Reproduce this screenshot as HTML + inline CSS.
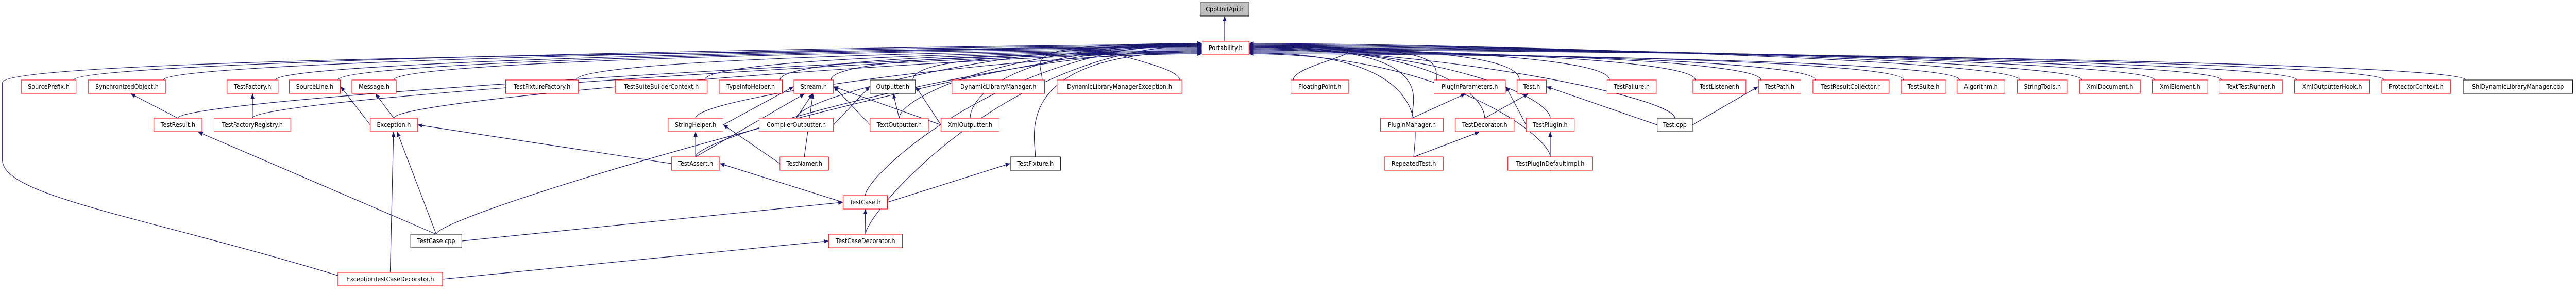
<!DOCTYPE html>
<html><head><meta charset="utf-8"><style>
html,body{margin:0;padding:0;background:#fff;width:100%;height:100%;overflow:hidden;}
svg{display:block;position:absolute;left:0;top:0;width:100vw;height:100vh;}
text{font-family:"DejaVu Sans","Liberation Sans",sans-serif;font-size:12px;fill:#000;}
</style></head><body>
<svg id="s" viewBox="0 0 5344 560" preserveAspectRatio="none" xmlns="http://www.w3.org/2000/svg">
<defs><marker id="ah" markerWidth="10" markerHeight="8" refX="9" refY="4" orient="auto" markerUnits="userSpaceOnUse"><path d="M0,0 L10,4 L0,8 z" fill="#191970"/></marker></defs>
<g id="edges" fill="none" stroke="#191970" stroke-width="1.2"></g>
<g id="nodes">
<g id="api"><rect x="2490" y="5" width="101" height="26" fill="#bfbfbf" stroke="#000"/><text x="2540.5" y="22" text-anchor="middle">CppUnitApi.h</text></g>
<g id="port"><rect x="2494" y="80" width="97" height="26" fill="#fff" stroke="#f00"/><text x="2542.5" y="97" text-anchor="middle">Portability.h</text></g>

<g id="a1"><rect x="44" y="155" width="114" height="26" fill="#fff" stroke="#f00"/><text x="101" y="172" text-anchor="middle">SourcePrefix.h</text></g>
<g id="a2"><rect x="183" y="155" width="161" height="26" fill="#fff" stroke="#f00"/><text x="263.5" y="172" text-anchor="middle">SynchronizedObject.h</text></g>
<g id="a3"><rect x="471" y="155" width="106" height="26" fill="#fff" stroke="#f00"/><text x="524" y="172" text-anchor="middle">TestFactory.h</text></g>
<g id="a4"><rect x="600" y="155" width="106" height="26" fill="#fff" stroke="#f00"/><text x="653" y="172" text-anchor="middle">SourceLine.h</text></g>
<g id="a5"><rect x="730" y="155" width="92" height="26" fill="#fff" stroke="#f00"/><text x="776" y="172" text-anchor="middle">Message.h</text></g>
<g id="a6"><rect x="1049" y="155" width="151" height="26" fill="#fff" stroke="#f00"/><text x="1124.5" y="172" text-anchor="middle">TestFixtureFactory.h</text></g>
<g id="a7"><rect x="1277" y="155" width="190" height="26" fill="#fff" stroke="#f00"/><text x="1372" y="172" text-anchor="middle">TestSuiteBuilderContext.h</text></g>
<g id="a8"><rect x="1492" y="155" width="131" height="26" fill="#fff" stroke="#f00"/><text x="1557.5" y="172" text-anchor="middle">TypeInfoHelper.h</text></g>
<g id="a9"><rect x="1647" y="155" width="82" height="26" fill="#fff" stroke="#f00"/><text x="1688" y="172" text-anchor="middle">Stream.h</text></g>
<g id="a10"><rect x="1805" y="155" width="94" height="26" fill="#fff" stroke="#000"/><text x="1852" y="172" text-anchor="middle">Outputter.h</text></g>
<g id="a11"><rect x="1975" y="155" width="192" height="26" fill="#fff" stroke="#f00"/><text x="2071" y="172" text-anchor="middle">DynamicLibraryManager.h</text></g>
<g id="a12"><rect x="2193" y="155" width="259" height="26" fill="#fff" stroke="#f00"/><text x="2322.5" y="172" text-anchor="middle">DynamicLibraryManagerException.h</text></g>
<g id="a13"><rect x="2678" y="155" width="120" height="26" fill="#fff" stroke="#f00"/><text x="2738" y="172" text-anchor="middle">FloatingPoint.h</text></g>
<g id="a14"><rect x="2975" y="155" width="148" height="26" fill="#fff" stroke="#f00"/><text x="3049" y="172" text-anchor="middle">PlugInParameters.h</text></g>
<g id="a15"><rect x="3147" y="155" width="61" height="26" fill="#fff" stroke="#f00"/><text x="3177.5" y="172" text-anchor="middle">Test.h</text></g>
<g id="a16"><rect x="3334" y="155" width="102" height="26" fill="#fff" stroke="#f00"/><text x="3385" y="172" text-anchor="middle">TestFailure.h</text></g>
<g id="a17"><rect x="3512" y="155" width="110" height="26" fill="#fff" stroke="#f00"/><text x="3567" y="172" text-anchor="middle">TestListener.h</text></g>
<g id="a18"><rect x="3648" y="155" width="88" height="26" fill="#fff" stroke="#f00"/><text x="3692" y="172" text-anchor="middle">TestPath.h</text></g>
<g id="a19"><rect x="3761" y="155" width="158" height="26" fill="#fff" stroke="#f00"/><text x="3840" y="172" text-anchor="middle">TestResultCollector.h</text></g>
<g id="a20"><rect x="3944" y="155" width="93" height="26" fill="#fff" stroke="#f00"/><text x="3990.5" y="172" text-anchor="middle">TestSuite.h</text></g>
<g id="a21"><rect x="4060" y="155" width="99" height="26" fill="#fff" stroke="#f00"/><text x="4109.5" y="172" text-anchor="middle">Algorithm.h</text></g>
<g id="a22"><rect x="4185" y="155" width="104" height="26" fill="#fff" stroke="#f00"/><text x="4237" y="172" text-anchor="middle">StringTools.h</text></g>
<g id="a23"><rect x="4314" y="155" width="126" height="26" fill="#fff" stroke="#f00"/><text x="4377" y="172" text-anchor="middle">XmlDocument.h</text></g>
<g id="a24"><rect x="4465" y="155" width="115" height="26" fill="#fff" stroke="#f00"/><text x="4522.5" y="172" text-anchor="middle">XmlElement.h</text></g>
<g id="a25"><rect x="4604" y="155" width="131" height="26" fill="#fff" stroke="#f00"/><text x="4669.5" y="172" text-anchor="middle">TextTestRunner.h</text></g>
<g id="a26"><rect x="4760" y="155" width="156" height="26" fill="#fff" stroke="#f00"/><text x="4838" y="172" text-anchor="middle">XmlOutputterHook.h</text></g>
<g id="a27"><rect x="4941" y="155" width="143" height="26" fill="#fff" stroke="#f00"/><text x="5012.5" y="172" text-anchor="middle">ProtectorContext.h</text></g>
<g id="a28"><rect x="5110" y="155" width="227" height="26" fill="#fff" stroke="#000"/><text x="5223.5" y="172" text-anchor="middle">ShlDynamicLibraryManager.cpp</text></g>

<g id="b1"><rect x="319" y="229" width="100" height="26" fill="#fff" stroke="#f00"/><text x="369" y="246" text-anchor="middle">TestResult.h</text></g>
<g id="b2"><rect x="444" y="229" width="159" height="26" fill="#fff" stroke="#f00"/><text x="523.5" y="246" text-anchor="middle">TestFactoryRegistry.h</text></g>
<g id="b3"><rect x="768" y="229" width="98" height="26" fill="#fff" stroke="#f00"/><text x="817" y="246" text-anchor="middle">Exception.h</text></g>
<g id="b4"><rect x="1386" y="229" width="114" height="26" fill="#fff" stroke="#f00"/><text x="1443" y="246" text-anchor="middle">StringHelper.h</text></g>
<g id="b5"><rect x="1575" y="229" width="154" height="26" fill="#fff" stroke="#f00"/><text x="1652" y="246" text-anchor="middle">CompilerOutputter.h</text></g>
<g id="b6"><rect x="1805" y="229" width="121" height="26" fill="#fff" stroke="#f00"/><text x="1865.5" y="246" text-anchor="middle">TextOutputter.h</text></g>
<g id="b7"><rect x="1952" y="229" width="121" height="26" fill="#fff" stroke="#f00"/><text x="2012.5" y="246" text-anchor="middle">XmlOutputter.h</text></g>
<g id="b8"><rect x="2864" y="229" width="130" height="26" fill="#fff" stroke="#f00"/><text x="2929" y="246" text-anchor="middle">PlugInManager.h</text></g>
<g id="b9"><rect x="3019" y="229" width="122" height="26" fill="#fff" stroke="#f00"/><text x="3080" y="246" text-anchor="middle">TestDecorator.h</text></g>
<g id="b10"><rect x="3166" y="229" width="100" height="26" fill="#fff" stroke="#f00"/><text x="3216" y="246" text-anchor="middle">TestPlugIn.h</text></g>
<g id="b11"><rect x="3438" y="229" width="73" height="26" fill="#fff" stroke="#000"/><text x="3474.5" y="246" text-anchor="middle">Test.cpp</text></g>

<g id="c1"><rect x="1393" y="304" width="100" height="26" fill="#fff" stroke="#f00"/><text x="1443" y="321" text-anchor="middle">TestAssert.h</text></g>
<g id="c2"><rect x="1618" y="304" width="101" height="26" fill="#fff" stroke="#f00"/><text x="1668.5" y="321" text-anchor="middle">TestNamer.h</text></g>
<g id="c3"><rect x="2096" y="304" width="104" height="26" fill="#fff" stroke="#000"/><text x="2148" y="321" text-anchor="middle">TestFixture.h</text></g>
<g id="c4"><rect x="2872" y="304" width="122" height="26" fill="#fff" stroke="#f00"/><text x="2933" y="321" text-anchor="middle">RepeatedTest.h</text></g>
<g id="c5"><rect x="3128" y="304" width="176" height="26" fill="#fff" stroke="#f00"/><text x="3216" y="321" text-anchor="middle">TestPlugInDefaultImpl.h</text></g>

<g id="d1"><rect x="1749" y="379" width="92" height="26" fill="#fff" stroke="#f00"/><text x="1795" y="396" text-anchor="middle">TestCase.h</text></g>
<g id="e1"><rect x="852" y="454" width="106" height="26" fill="#fff" stroke="#000"/><text x="905" y="471" text-anchor="middle">TestCase.cpp</text></g>
<g id="e2"><rect x="1719" y="454" width="153" height="26" fill="#fff" stroke="#f00"/><text x="1795.5" y="471" text-anchor="middle">TestCaseDecorator.h</text></g>
<g id="f1"><rect x="701" y="528" width="217" height="26" fill="#fff" stroke="#f00"/><text x="809.5" y="545" text-anchor="middle">ExceptionTestCaseDecorator.h</text></g>
</g>
</svg>
<script>
(function(){
var NS="http://www.w3.org/2000/svg",E=document.getElementById('edges');
function b(id){var r=document.getElementById(id).querySelector('rect');var x=+r.getAttribute('x'),y=+r.getAttribute('y'),w=+r.getAttribute('width'),h=+r.getAttribute('height');return {x:x,y:y,w:w,h:h,cx:x+w/2,cy:y+h/2};}
function p(d){var e=document.createElementNS(NS,'path');e.setAttribute('d',d);e.setAttribute('marker-end','url(#ah)');E.appendChild(e);}
var P=b('port');
p('M2540.5,80 L2540.5,32');
var toPort=['a1','a2','a3','a4','a5','a6','a7','a8','a9','a10','a11','a12','a13','a14','a15','a16','a17','a18','a19','a20','a21','a22','a23','a24','a25','a26','a27','a28','b1','b2','b3','b4','b5','b6','b7','b8','b9','b10','b11','c1','c3','c4','c5','d1','e1','e2','f1'];
var i=0;
toPort.forEach(function(id){var n=b(id);i++;var ey=84+(i%11)*2;
 if(id==='f1'){p('M701,534 C300,420 5,380 5,310 L5,160 C5,110 1800,100 2493,'+ey);return;}
 if(n.cx<P.x){var sx=(n.y<190)?n.x+n.w-5:n.cx,sy=n.y;
   p('M'+sx+','+sy+' C'+sx+','+(sy-40)+' '+(P.x-400)+','+ey+' '+(P.x-1)+','+ey);}
 else if(n.cx>P.x+P.w){var sx=(n.y<190)?n.x+5:n.cx,sy=n.y;
   p('M'+sx+','+sy+' C'+sx+','+(sy-40)+' '+(P.x+P.w+400)+','+ey+' '+(P.x+P.w+1)+','+ey);}
 else{p('M'+n.cx+','+n.y+' C'+n.cx+','+(n.y-40)+' '+(P.cx)+','+(P.y+P.h+40)+' '+P.cx+','+(P.y+P.h+1));}
});
function e(c,pa){var C=b(c),A=b(pa);var dx=A.cx-C.cx,dy=C.y-(A.y+A.h);
 if(Math.abs(dx)>3*Math.abs(dy)&&dy<80){var tx=dx>0?A.x-1:A.x+A.w+1;p('M'+(dx>0?C.x+C.w:C.x)+','+C.cy+' L'+tx+','+A.cy);}
 else{p('M'+C.cx+','+C.y+' L'+(A.cx+(C.cx-A.cx)*0.08)+','+(A.y+A.h+1));}}
[['b1','a2'],['b2','a3'],['b3','a4'],['b3','a5'],['c1','b3'],['e1','b3'],['f1','b3'],['e1','b1'],
 ['b4','a9'],['c1','a9'],['b5','a9'],['c2','a9'],['b6','a9'],['b7','a9'],['b5','a10'],['b6','a10'],['b7','a10'],
 ['c1','b4'],['c2','b4'],['d1','c1'],['d1','c3'],['e1','d1'],['e2','d1'],['f1','e2'],
 ['b8','a14'],['b10','a14'],['b9','a15'],['b11','a15'],['c4','b9'],['c5','b10'],['b10','c5'],['b11','a18']].forEach(function(x){e(x[0],x[1]);});
})();
</script>
</body></html>
